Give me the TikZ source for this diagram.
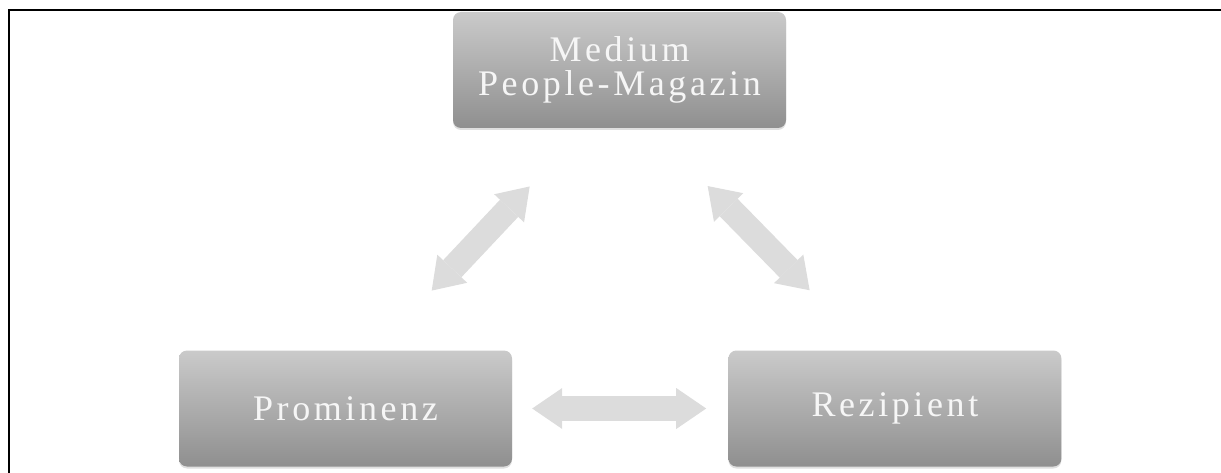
\documentclass[tikz,border=0pt]{standalone}
\usepackage{fontspec}
\setmainfont{Liberation Serif}[LetterSpace=10]
\usetikzlibrary{positioning,arrows.meta,shadows}

\definecolor{boxtop}{RGB}{202,202,202}
\definecolor{boxbot}{RGB}{143,143,143}
\definecolor{arrowgray}{RGB}{220,220,220}
\definecolor{labelwhite}{RGB}{246,246,246}

\tikzset{
  box/.style={rounded corners=8pt, minimum width=333pt, minimum height=116pt,
    top color=boxtop, bottom color=boxbot, text=labelwhite, align=center,
    font=\fontsize{36}{34}\selectfont,
    drop shadow={opacity=0.25, shadow xshift=0pt, shadow yshift=-2pt}},
  tip/.tip={Triangle[length=30pt, width=41pt, line width=0pt]},
  dblarrow/.style={line width=25pt, draw=arrowgray, tip-tip}
}

\begin{document}
\begin{tikzpicture}[x=1pt, y=-1pt, node distance=216pt]
  \useasboundingbox (0,0) rectangle (1221,473);
  \draw[line width=2pt] (1221,10) -- (9,10) -- (9,473);

  \node [box] (med) at (619.5,70) {Medium\\People-Magazin};
  \node [box] (prom) at (345.5,408.5) {Prominenz};
  \node [box, right=216pt of prom] (rez) {Rezipient};

  \draw[dblarrow, shorten <=82pt, shorten >=80pt] ([xshift=30pt]prom.north) -- ([xshift=-35pt]med.south);
  \draw[dblarrow, shorten <=81pt, shorten >=84pt] ([xshift=31.5pt]med.south) -- ([xshift=-26.5pt]rez.north);
  \draw[dblarrow, shorten <=20pt, shorten >=22pt] (prom.east) -- (rez.west);

\end{tikzpicture}
\end{document}
